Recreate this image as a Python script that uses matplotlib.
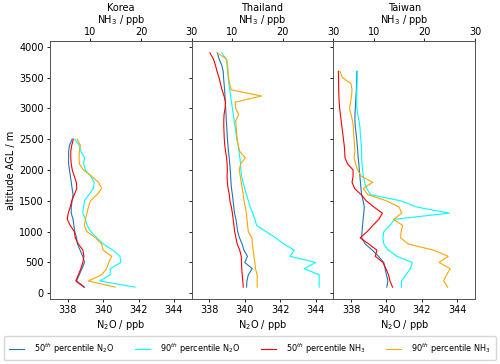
import numpy as np
import matplotlib
matplotlib.use('Agg')
from matplotlib import pyplot as plt

# altitude levels (m AGL)
alt_levels = [100, 200, 300, 400, 500, 600, 700, 800, 900, 1000,
              1100, 1200, 1300, 1400, 1500, 1600, 1700, 1800, 1900, 2000,
              2100, 2200, 2300, 2400, 2500, 2600, 2700, 2800, 2900, 3000,
              3100, 3200, 3300, 3400, 3500, 3600, 3700, 3800, 3900]

countries = ['Korea', 'Thailand', 'Taiwan']
n_levels = [25, 39, 36]

# N2O / ppb, 50th and 90th percentile
n2o_p50 = {
    'Korea': [338.95, 338.5, 338.65, 338.8, 338.95, 338.85, 338.7, 338.55, 338.5, 338.4,
              338.35, 338.3, 338.2, 338.2, 338.25, 338.3, 338.25, 338.2, 338.15, 338.1,
              338.05, 338.05, 338.05, 338.1, 338.25],
    'Thailand': [340.1, 340.12, 340.2, 340.42, 340.0, 340.15, 339.95, 339.85, 339.7, 339.6,
                 339.55, 339.5, 339.42, 339.38, 339.34, 339.3, 339.25, 339.22, 339.2, 339.18,
                 339.15, 339.12, 339.08, 339.05, 339.02, 339.0, 338.98, 338.96, 338.94, 338.92,
                 338.9, 338.88, 338.86, 338.83, 338.8, 338.78, 338.7, 338.55, 338.45],
    'Taiwan': [340.02, 340.08, 340.0, 339.92, 339.85, 339.55, 339.2, 338.8, 338.6, 338.62,
               338.65, 338.68, 338.72, 338.75, 338.68, 338.6, 338.56, 338.53, 338.5, 338.47,
               338.44, 338.4, 338.38, 338.35, 338.32, 338.28, 338.24, 338.22, 338.22, 338.24,
               338.26, 338.28, 338.3, 338.31, 338.32, 338.33],
}
n2o_p90 = {
    'Korea': [341.8, 339.8, 340.4, 340.4, 341.0, 340.95, 340.55, 340.0, 339.65, 339.3,
              339.1, 339.0, 338.85, 338.9, 338.95, 339.2, 339.45, 339.5, 339.3, 339.0,
              338.9, 338.95, 338.75, 338.65, 338.4],
    'Thailand': [344.2, 344.2, 344.2, 343.35, 344.0, 342.55, 342.8, 342.2, 341.75, 341.2,
                 340.67, 340.57, 340.45, 340.3, 340.2, 340.1, 340.0, 339.9, 339.82, 339.78,
                 339.76, 339.72, 339.67, 339.62, 339.55, 339.5, 339.45, 339.4, 339.35, 339.3,
                 339.25, 339.2, 339.15, 339.1, 339.06, 339.03, 339.0, 338.95, 338.7],
    'Taiwan': [340.85, 340.85, 341.1, 341.35, 341.45, 340.6, 340.1, 339.85, 339.8, 339.85,
               340.2, 340.45, 343.55, 341.7, 340.8, 339.1, 338.88, 338.77, 338.7, 338.65,
               338.62, 338.6, 338.6, 338.58, 338.55, 338.52, 338.5, 338.45, 338.38, 338.33,
               338.32, 338.32, 338.33, 338.34, 338.35, 338.36],
}

# NH3 / ppb, 50th and 90th percentile
nh3_p50 = {
    'Korea': [8.7, 7.1, 7.6, 8.1, 8.5, 8.7, 8.5, 7.6, 7.0, 6.8,
              6.0, 5.4, 5.6, 6.0, 6.3, 6.8, 7.3, 7.2, 6.8, 6.4,
              6.2, 6.1, 6.1, 6.3, 6.6],
    'Thailand': [12.2, 12.1, 12.0, 11.9, 11.85, 11.8, 11.5, 11.0, 10.75, 10.5,
                 10.35, 10.2, 10.05, 9.85, 9.55, 9.45, 9.2, 9.05, 9.0, 9.05,
                 9.0, 8.9, 8.7, 8.55, 8.45, 8.4, 8.35, 8.35, 8.4, 8.6,
                 8.7, 8.4, 8.0, 7.7, 7.4, 7.0, 6.7, 6.3, 5.6],
    'Taiwan': [13.7, 13.2, 12.9, 12.4, 11.8, 10.3, 10.6, 9.0, 7.3, 8.7,
               9.8, 11.0, 11.7, 10.0, 8.5, 7.5, 6.2, 5.7, 5.9, 5.9,
               4.8, 4.3, 4.25, 4.15, 4.0, 3.85, 3.7, 3.55, 3.4, 3.25,
               3.15, 3.1, 3.06, 3.04, 3.02, 3.0],
}
nh3_p90 = {
    'Korea': [14.9, 9.6, 12.2, 13.2, 13.6, 14.2, 12.5, 12.2, 11.0, 9.3,
              8.8, 9.0, 9.3, 9.6, 10.0, 11.3, 12.2, 11.6, 10.2, 8.6,
              7.8, 7.75, 7.8, 8.0, 7.4],
    'Thailand': [14.95, 14.95, 14.95, 14.6, 14.5, 14.3, 14.15, 14.0, 13.9, 13.2,
                 13.05, 12.95, 12.8, 12.6, 12.35, 12.2, 12.0, 11.8, 11.6, 11.4,
                 11.7, 12.6, 11.5, 11.2, 11.0, 10.9, 10.8, 10.7, 11.3, 10.7,
                 10.6, 15.8, 9.8, 9.5, 9.3, 9.2, 9.1, 8.9, 7.0],
    'Taiwan': [24.6, 23.8, 24.4, 25.1, 22.9, 24.7, 21.8, 16.8, 15.3, 15.4,
               15.7, 13.9, 15.5, 15.0, 12.5, 8.8, 7.9, 9.8, 7.5, 6.8,
               6.4, 6.1, 6.25, 6.2, 6.1, 6.0, 5.95, 5.8, 5.5, 5.2,
               5.4, 5.6, 5.7, 5.5, 3.8, 3.3],
}

plt.rcParams['font.size'] = 7
plt.rcParams['axes.edgecolor'] = '#555555'
plt.rcParams['axes.linewidth'] = 0.7

fig, axes = plt.subplots(1, 3, figsize=(5, 3.64), dpi=100, sharey=True)
fig.subplots_adjust(left=0.1, right=0.95, top=0.887, bottom=0.179, wspace=0)

lw = 0.8
for ax, name, n in zip(axes, countries, n_levels):
    alt = alt_levels[:n]
    ax2 = ax.twiny()
    l1, = ax.plot(n2o_p50[name], alt, color='tab:blue', lw=lw, label='50$^{th}$ percentile N$_2$O')
    l2, = ax.plot(n2o_p90[name], alt, color='cyan', lw=lw, label='90$^{th}$ percentile N$_2$O')
    l3, = ax2.plot(nh3_p50[name], alt, color='red', lw=lw, label='50$^{th}$ percentile NH$_3$')
    l4, = ax2.plot(nh3_p90[name], alt, color='orange', lw=lw, label='90$^{th}$ percentile NH$_3$')

    ax.set_xlim(337, 345)
    ax.set_xticks([338, 340, 342, 344])
    ax2.set_xlim(2, 30)
    ax2.set_xticks([10, 20, 30])
    ax.set_xlabel('N$_2$O / ppb', labelpad=2)
    ax2.set_xlabel('NH$_3$ / ppb', labelpad=2.5)
    ax2.set_title(name, pad=1.0, fontsize=7)
    ax.tick_params(length=2.5, width=0.6, pad=2)
    ax2.tick_params(length=2.5, width=0.6, pad=0.5)

axes[0].set_ylim(-90, 4090)
axes[0].set_yticks([0, 500, 1000, 1500, 2000, 2500, 3000, 3500, 4000])
axes[0].set_ylabel('altitude AGL / m', labelpad=2)

fig.legend(handles=[l1, l2, l3, l4], loc='center', bbox_to_anchor=(0.5, 0.043),
           ncol=4, fontsize=5.9, handlelength=1.8, handletextpad=1.3,
           columnspacing=2.45, borderpad=0.6)

fig.savefig('out.png', dpi=100)
